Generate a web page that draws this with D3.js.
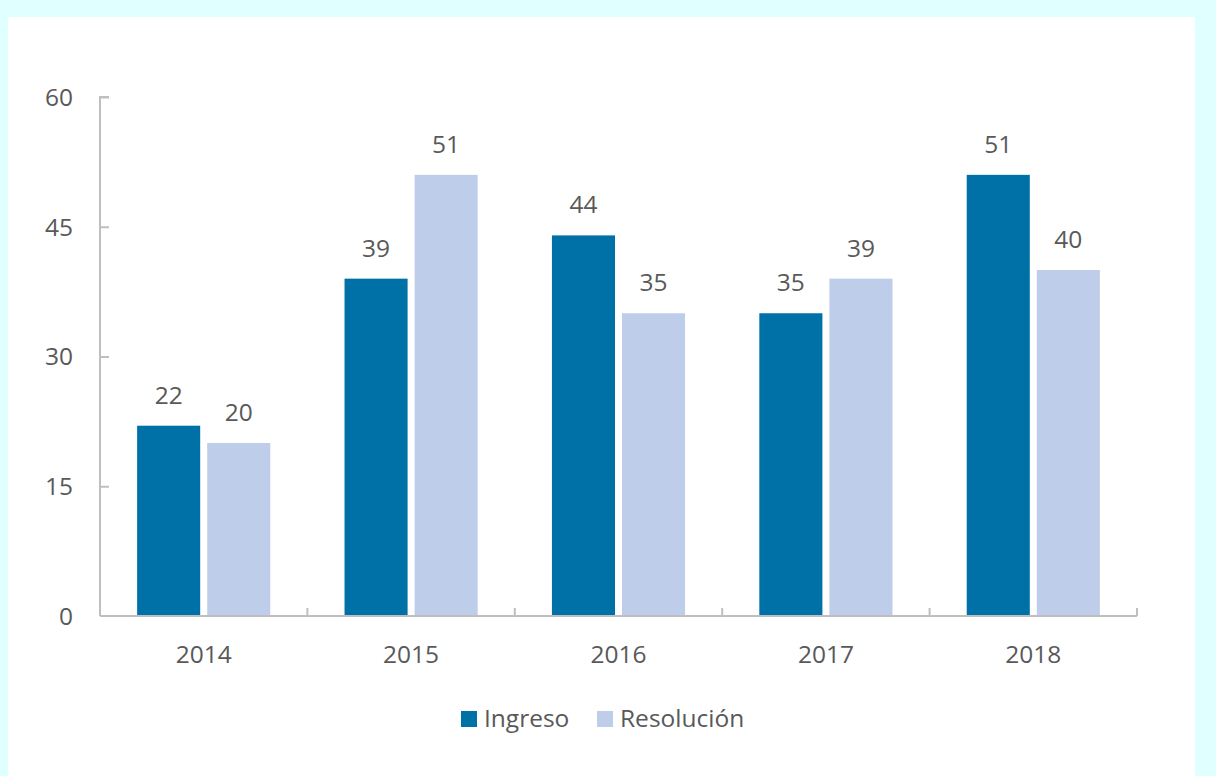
<!DOCTYPE html>
<html>
<head>
<meta charset="utf-8">
<script src="https://cdn.jsdelivr.net/npm/d3@7"></script>
<style>
  html, body { margin: 0; padding: 0; background: #E0FFFF; }
  svg { display: block; }
  text { font-family: "Open Sans", sans-serif; fill: #595959; }
</style>
</head>
<body>
<svg id="chart" width="1216" height="776"></svg>
<script>
const categories = ["2014", "2015", "2016", "2017", "2018"];
const seriesNames = ["Ingreso", "Resolución"];
const ingreso = [22, 39, 44, 35, 51];
const resolucion = [20, 51, 35, 39, 40];
const yTicks = [0, 15, 30, 45, 60];
const colors = ["#0071A6", "#BDCDEA"];

(function () {
const svg = d3.select("#chart");
svg.append("rect").attr("x", 8).attr("y", 17).attr("width", 1187).attr("height", 759).attr("fill", "#ffffff");

const plotLeft = 100, plotRight = 1137, plotTop = 97, plotBottom = 616;
const fs = 24.5;

const x0 = d3.scaleBand().domain(categories).range([plotLeft, plotRight]).padding(0);
const step = x0.bandwidth();
const x1 = d3.scaleBand().domain(seriesNames).range([step * 0.179, step * 0.821]).paddingInner(0.1).paddingOuter(0);
const y = d3.scaleLinear().domain([0, 60]).range([plotBottom, plotTop]);

const data = categories.map((c, i) => ({ cat: c, vals: [ingreso[i], resolucion[i]] }));

// bars
const g = svg.append("g");
data.forEach(d => {
  d.vals.forEach((v, j) => {
    const bx = x0(d.cat) + x1(seriesNames[j]);
    g.append("rect")
      .attr("x", bx)
      .attr("y", y(v))
      .attr("width", x1.bandwidth())
      .attr("height", y(0) - y(v))
      .attr("fill", colors[j]);
    g.append("text")
      .attr("x", bx + x1.bandwidth() / 2)
      .attr("y", y(v) - 22)
      .attr("text-anchor", "middle")
      .attr("font-size", fs)
      .text(v);
  });
});

// y axis
const yAxis = svg.append("g").attr("transform", `translate(${plotLeft},0)`)
  .call(d3.axisRight(y).tickValues(yTicks).tickSize(9).tickFormat(""));
yAxis.select(".domain").attr("stroke", "#BFBFBF").attr("stroke-width", 2).attr("d", `M9,${plotTop}H0V${plotBottom}`);
yAxis.selectAll(".tick line").attr("stroke", "#BFBFBF").attr("stroke-width", 2);
yAxis.selectAll(".tick").filter(d => d === 0).select("line").remove();
yTicks.forEach(t => {
  svg.append("text")
    .attr("x", 73).attr("y", y(t))
    .attr("dy", "0.36em")
    .attr("text-anchor", "end")
    .attr("font-size", fs)
    .text(t);
});

// x axis
const xAxis = svg.append("g").attr("transform", `translate(0,${plotBottom})`)
  .call(d3.axisTop(x0).tickSize(0).tickFormat(""));
xAxis.select(".domain").attr("stroke", "#BFBFBF").attr("stroke-width", 2).attr("d", `M${plotLeft},0H${plotRight}`);
const boundaries = categories.map(c => x0(c)).concat([plotRight]);
boundaries.forEach(bx => {
  svg.append("line")
    .attr("x1", bx).attr("x2", bx)
    .attr("y1", plotBottom).attr("y2", plotBottom - 8)
    .attr("stroke", "#BFBFBF").attr("stroke-width", 2);
});
categories.forEach(c => {
  svg.append("text")
    .attr("x", x0(c) + step / 2)
    .attr("y", 663)
    .attr("text-anchor", "middle")
    .attr("font-size", fs)
    .text(c);
});

// legend
const legend = svg.append("g");
const legendItems = [{ name: seriesNames[0], x: 461 }, { name: seriesNames[1], x: 597 }];
legendItems.forEach((it, j) => {
  legend.append("rect").attr("x", it.x).attr("y", 711).attr("width", 16).attr("height", 16).attr("fill", colors[j]);
  legend.append("text").attr("x", it.x + 23).attr("y", 727).attr("font-size", fs).text(it.name);
});
})();
</script>
</body>
</html>
